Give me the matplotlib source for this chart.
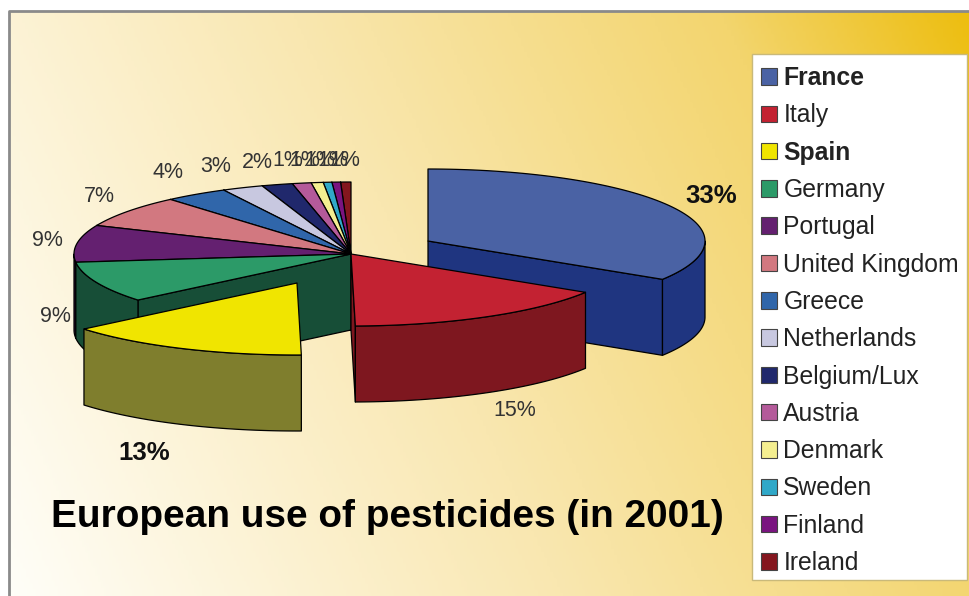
import numpy as np
import matplotlib
matplotlib.use('Agg')
import matplotlib.pyplot as plt
from matplotlib.colors import LinearSegmentedColormap
from matplotlib.patches import Patch, Rectangle

countries = ['France', 'Italy', 'Spain', 'Germany', 'Portugal', 'United Kingdom', 'Greece',
             'Netherlands', 'Belgium/Lux', 'Austria', 'Denmark', 'Sweden', 'Finland', 'Ireland']
# shares as drawn in the picture, the printed labels are rounded differently
shares = [33.9, 15.8, 14.2, 9.2, 8.3, 7.2, 3.7, 2.4, 1.8, 1.1, 0.7, 0.5, 0.5, 0.6]
pct_labels = ['33%', '15%', '13%', '9%', '9%', '7%', '4%', '3%', '2%', '1%', '1%', '1%', '1%', '1%']
top_colors = ['#4A62A4', '#C32232', '#F0E500', '#2C9A68', '#642070', '#D27880', '#3066AA',
              '#C8C8E0', '#20286C', '#B45A9A', '#F4EE90', '#30A8C8', '#7A1480', '#84161E']
side_colors = ['#1F3580', '#7E171F', '#7F7E2D', '#174E37', '#2E0F38', '#6A3C40', '#183355',
               '#646470', '#101436', '#5A2D4D', '#7A7748', '#185464', '#3D0A40', '#420B0F']
bold_names = ['France', 'Spain']

# pixel layout
W, H = 969, 596
cx, cy = 351, 254
rx, ry = 277, 72
depth = 76
offsets = {'France': (77, -13), 'Spain': (-54, 29)}
label_xy = [(711, 196), (515, 411), (144, 453), (55, 317), (47, 240), (99, 197), (168, 173),
            (216, 166), (257, 162), (288, 161), (305, 161), (320, 161), (333, 161), (345, 161)]


def rim(theta, ox, oy, dz=0):
    # theta in degrees, clockwise from the top of the pie
    t = np.radians(theta)
    return cx + ox + rx * np.sin(t), cy + oy - ry * np.cos(t) + dz


fig = plt.figure(figsize=(W / 100, H / 100), dpi=100)
ax = fig.add_axes([0, 0, 1, 1])
ax.set_xlim(0, W)
ax.set_ylim(H, 0)
ax.axis('off')

bg = LinearSegmentedColormap.from_list('bg', [(0, '#FFFEF8'), (0.45, '#F9E7B0'),
                                              (0.8, '#F3D56E'), (1, '#EDBE10')])
gx, gy = np.meshgrid(np.linspace(0, 1, 300), np.linspace(0, 1, 200))
ax.imshow(0.78 * gx + 0.22 * (1 - gy), cmap=bg, vmin=0, vmax=1, extent=(9, W, H, 11),
          aspect='auto', zorder=0)
ax.set_xlim(0, W)
ax.set_ylim(H, 0)
ax.plot([9, 9, W], [H, 11, 11], color='#8A8A8A', lw=2, zorder=1)

edges = np.cumsum([0] + shares) / sum(shares) * 360
draw_order = [13, 12, 11, 10, 9, 8, 7, 6, 5, 4, 3, 0, 2, 1]
z = 2
for i in draw_order:
    ox, oy = offsets.get(countries[i], (0, 0))
    start, end = edges[i], edges[i + 1]
    apex = (cx + ox, cy + oy)
    ec = dict(edgecolor='black', linewidth=0.9, joinstyle='round')

    # cut faces that look toward the viewer
    faces = []
    if 180 < start < 360:
        faces.append(start)
    if 0 < end < 180:
        faces.append(end)
    for f in faces:
        px, py = rim(f, ox, oy)
        ax.fill([apex[0], px, px, apex[0]], [apex[1], py, py + depth, apex[1] + depth],
                facecolor=side_colors[i], zorder=z, **ec)
        z += 1

    # outer wall, front half only
    a, b = max(start, 90), min(end, 270)
    if a < b:
        th = np.linspace(a, b, 60)
        x1, y1 = rim(th, ox, oy)
        x2, y2 = rim(th[::-1], ox, oy, depth)
        ax.fill(np.r_[x1, x2], np.r_[y1, y2], facecolor=side_colors[i], zorder=z, **ec)
        z += 1

    th = np.linspace(start, end, 80)
    x1, y1 = rim(th, ox, oy)
    ax.fill(np.r_[apex[0], x1], np.r_[apex[1], y1], facecolor=top_colors[i], zorder=z, **ec)
    z += 1

for name, lab, (lx, ly) in zip(countries, pct_labels, label_xy):
    is_bold = name in bold_names
    ax.text(lx, ly, lab, ha='center', va='center', family='Liberation Sans', zorder=100,
            fontsize=18.5 if is_bold else 15.5, fontweight='bold' if is_bold else 'normal',
            color='#111111' if is_bold else '#333333')

ax.text(51, 517, 'European use of pesticides (in 2001)', ha='left', va='center',
        family='Liberation Sans', fontweight='bold', fontsize=27.9, color='black', zorder=100)

# legend box is drawn on its own so its size can follow the reference
ax.add_patch(Rectangle((752, 54), 215, 526, facecolor='white', edgecolor='#C9B97A', lw=1, zorder=150))
handles = [Patch(facecolor=c, edgecolor='#444444', linewidth=0.8) for c in top_colors]
leg = ax.legend(handles, countries, loc='upper left', bbox_to_anchor=(752, 57.5),
                bbox_transform=ax.transData, prop={'family': 'Liberation Sans', 'size': 17.8},
                frameon=False, borderaxespad=0, borderpad=0.35, handlelength=0.65, handleheight=0.65,
                handletextpad=0.27, labelspacing=0.538, labelcolor='#222222')
leg.set_zorder(200)
for t in leg.get_texts():
    if t.get_text() in bold_names:
        t.set_fontweight('bold')

fig.savefig('out.png', dpi=100)
